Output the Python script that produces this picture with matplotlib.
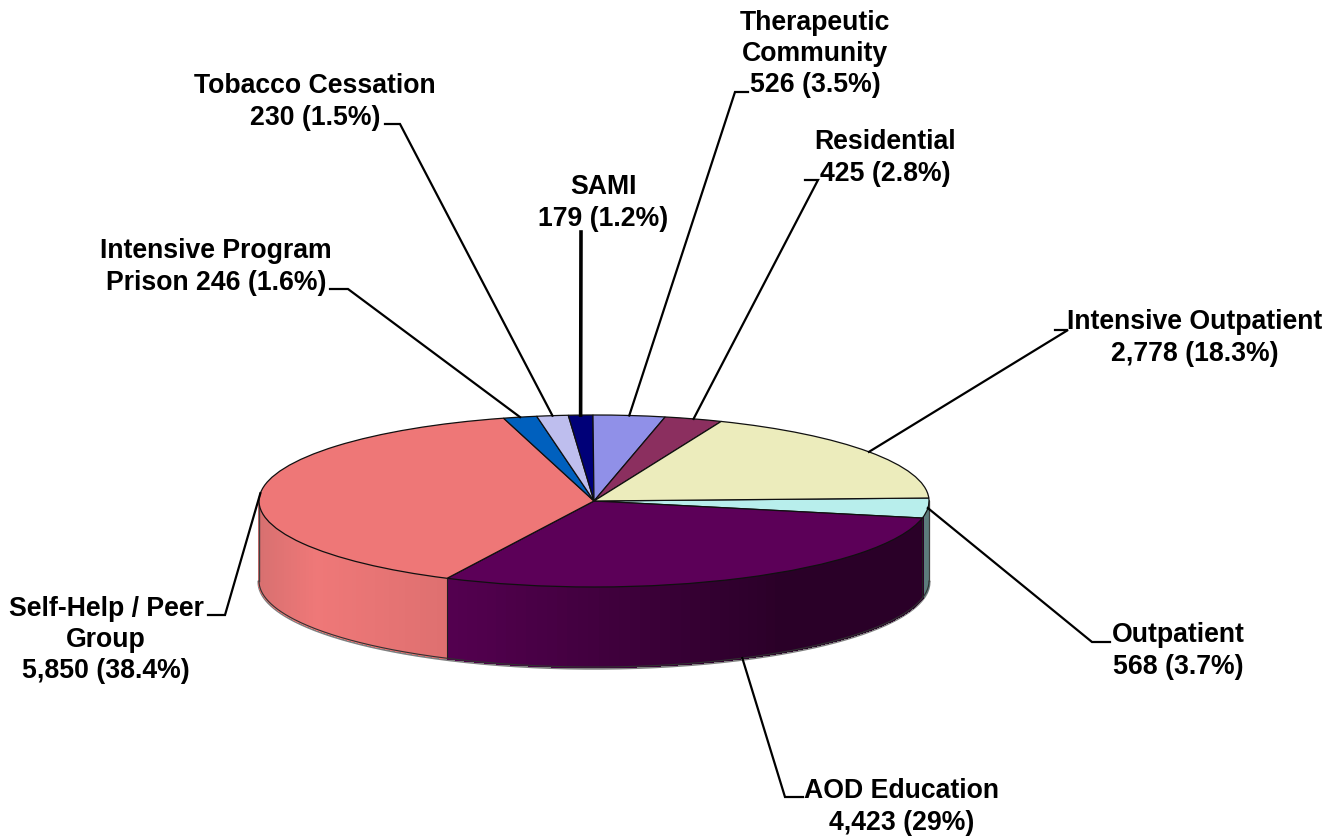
import numpy as np
import matplotlib
matplotlib.use('Agg')
import matplotlib.pyplot as plt
from matplotlib.collections import PolyCollection
from matplotlib.colors import to_rgb

# slices, clockwise from the right hand side
names = ['Outpatient', 'AOD Education', 'Self-Help / Peer\nGroup', 'Intensive Program\nPrison',
         'Tobacco Cessation', 'SAMI', 'Therapeutic\nCommunity', 'Residential', 'Intensive Outpatient']
values = [568, 4423, 5850, 246, 230, 179, 526, 425, 2778]
percents = ['3.7%', '29%', '38.4%', '1.6%', '1.5%', '1.2%', '3.5%', '2.8%', '18.3%']
colors = ['#B8EEEC', '#5C0058', '#EE7777', '#0060BE', '#BEBEEE', '#000078', '#9090E8', '#8B2F5F', '#ECECBC']

W, H = 1332, 836
CX, CY, RX, RY, DEPTH = 594, 501, 335, 86, 80
START = 2.0

plt.rcParams['font.family'] = ['Liberation Sans', 'DejaVu Sans']
fig = plt.figure(figsize=(W / 100, H / 100), dpi=100)

# pie axes covers exactly the ellipse, so the circle from pie() gets squashed
ax = fig.add_axes([(CX - RX) / W, 1 - (CY + RY) / H, 2 * RX / W, 2 * RY / H])
ax.pie(values, colors=colors, startangle=START, counterclock=False, radius=1,
       wedgeprops=dict(edgecolor='#101010', linewidth=0.9, zorder=5))
ax.set_aspect('auto')
ax.set_xlim(-1, 1)
ax.set_ylim(-1, 1)

fractions = np.array(values) / sum(values)
edges = np.radians(START) - 2 * np.pi * np.concatenate([[0], np.cumsum(fractions)])
mids = (edges[:-1] + edges[1:]) / 2
dy = DEPTH / RY


def wall_shade(i, x):
    # side wall colour runs left to right, x in -1..1
    if i == 0:
        return to_rgb('#5C7C7C')
    if i == 1:
        c0, c1 = np.array(to_rgb('#540050')), np.array(to_rgb('#2A0028'))
        t = np.clip((x + 0.44) / 1.0, 0, 1)
        return tuple(c0 + (c1 - c0) * t)
    c0, c1, c2 = [np.array(to_rgb(c)) for c in ('#D87070', '#EF7878', '#DE7070')]
    t = (x + 1) / 0.56
    if t < 0.3:
        return tuple(c0 + (c1 - c0) * t / 0.3)
    return tuple(c1 + (c2 - c1) * (t - 0.3) / 0.7)


# side wall: only the front half of the disc shows
for i in range(len(values)):
    a0, a1 = min(edges[i], 0), max(edges[i + 1], -np.pi)
    if a0 <= a1:
        continue
    ts = np.linspace(a0, a1, 60)
    polys, cols = [], []
    for t0, t1 in zip(ts[:-1], ts[1:]):
        x0, y0, x1, y1 = np.cos(t0), np.sin(t0), np.cos(t1), np.sin(t1)
        polys.append([(x0, y0), (x1, y1), (x1, y1 - dy), (x0, y0 - dy)])
        cols.append(wall_shade(i, (x0 + x1) / 2))
    ax.add_collection(PolyCollection(polys, facecolors=cols, edgecolors=cols, linewidths=1.0,
                                     antialiaseds=False, clip_on=False, zorder=2))
    ax.plot([np.cos(a1)] * 2, [np.sin(a1), np.sin(a1) - dy], color='#202020', lw=0.8,
            clip_on=False, zorder=3)

# outline of the wall
ts = np.linspace(0, -np.pi, 300)
ax.plot(np.cos(ts), np.sin(ts) - dy - 0.014, color='#808080', lw=2.2, clip_on=False, zorder=1)
ax.plot(np.cos(ts), np.sin(ts) - dy, color='#303030', lw=0.8, clip_on=False, zorder=3)
ax.plot([-1, -1], [0, -dy], color='#404040', lw=0.9, clip_on=False, zorder=3)
ax.plot([1, 1], [0, -dy], color='#404040', lw=0.9, clip_on=False, zorder=3)
for c in ax.patches:
    c.set_clip_on(False)

# overlay in pixel coordinates for leaders and text
ov = fig.add_axes([0, 0, 1, 1], facecolor='none')
ov.set_xlim(0, W)
ov.set_ylim(H, 0)
ov.axis('off')

# elbow, end of the short horizontal, label centre, for each slice
layout = [
    ((1092, 642), (1110, 642), (1178, 651)),
    ((785, 797), (803, 797), (902, 807)),
    ((225, 615), (208, 615), (106, 640)),
    ((348, 289), (330, 289), (216, 267)),
    ((400, 124), (385, 124), (315, 102)),
    ((581, 232), (581, 232), (603, 203)),
    ((735, 92), (748, 92), (815, 54)),
    ((818, 180), (805, 180), (885, 158)),
    ((1068, 330), (1055, 330), (1195, 338)),
]

for i, (elbow, end, centre) in enumerate(layout):
    px = CX + RX * np.cos(mids[i])
    py = CY - RY * np.sin(mids[i])
    if i == 1:
        py += DEPTH
    lw = 2.6 if names[i] == 'SAMI' else 1.6
    ov.plot([px, elbow[0], end[0]], [py, elbow[1], end[1]], color='black', lw=lw,
            solid_joinstyle='miter', zorder=6)
    if names[i] == 'Intensive Program\nPrison':
        label = f'Intensive Program\nPrison {values[i]} ({percents[i]})'
    else:
        label = f'{names[i]}\n{values[i]:,} ({percents[i]})'
    ov.text(centre[0], centre[1], label, ha='center', va='center', fontsize=19.2,
            fontweight='bold', color='black', linespacing=1.27)

fig.savefig('out.png', dpi=100, facecolor='white')
